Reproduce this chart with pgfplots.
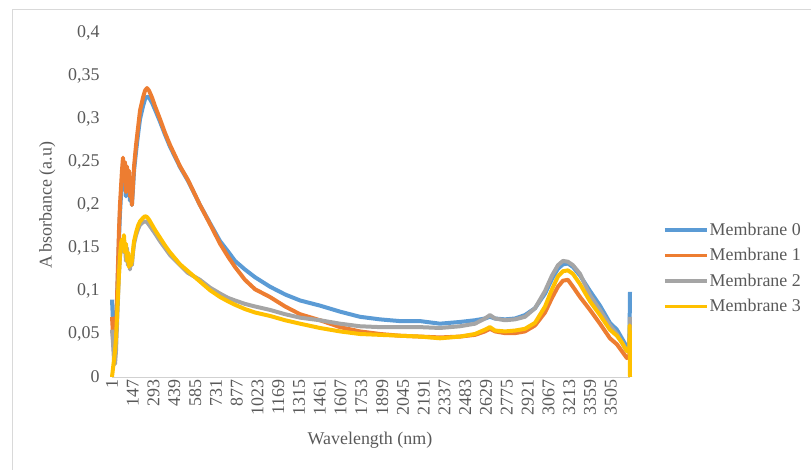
\documentclass[border=0pt]{standalone}
\usepackage{fontspec}
\setmainfont{Liberation Serif}
\usepackage{pgfplots}
\pgfplotsset{compat=1.18}
\definecolor{m0}{HTML}{5B9BD5}
\definecolor{m1}{HTML}{ED7D31}
\definecolor{m2}{HTML}{A5A5A5}
\definecolor{m3}{HTML}{FFC000}
\newcommand{\chartfont}{\fontsize{18}{21}\selectfont}
\begin{document}
\begin{tikzpicture}
\path[use as bounding box] (0,0) rectangle (811bp,470bp);
\draw[black!15, line width=1bp] (12bp,0) -- (12bp,460bp) -- (811bp,460bp);
\begin{axis}[
  at={(112bp,93bp)}, anchor=south west,
  scale only axis, width=518bp, height=344bp,
  xmin=1, xmax=3640, ymin=0, ymax=0.4,
  clip=false,
  axis x line*=bottom, axis y line*=left,
  x axis line style={draw=black!18, line width=1bp},
  y axis line style={draw=none},
  major tick length=0pt,
  xtick={1,147,293,439,585,731,877,1023,1169,1315,1461,1607,1753,1899,2045,2191,2337,2483,2629,2775,2921,3067,3213,3359,3505},
  xticklabels={1,147,293,439,585,731,877,1023,1169,1315,1461,1607,1753,1899,2045,2191,2337,2483,2629,2775,2921,3067,3213,3359,3505},
  ytick={0,0.05,0.1,0.15,0.2,0.25,0.3,0.35,0.4},
  yticklabels={0,{0,05},{0,1},{0,15},{0,2},{0,25},{0,3},{0,35},{0,4}},
  tick label style={font=\chartfont, color=black!65},
  xticklabel style={rotate=90, anchor=east, inner sep=2bp},
  yticklabel style={xshift=-9bp},
  xlabel={Wavelength (nm)},
  ylabel={A\,bsorbance (a.u)},
  label style={font=\chartfont, color=black!65},
  xlabel style={at={(axis description cs:0.498,-0.183)}, anchor=center},
  ylabel style={at={(axis description cs:-0.125,0.5)}, anchor=center},
  legend style={at={(axis description cs:1.058,0.457)}, anchor=north west,
    draw=none, fill=none, font=\chartfont, text=black!65,
    row sep=9.5bp, nodes={inner sep=1bp}},
  legend cell align=left,
  legend image code/.code={\draw[#1, line width=3.5bp] (0bp,0bp) -- (42bp,0bp);},
  every axis plot/.append style={line width=4bp, line join=round},
]
\addplot[m0] coordinates {
(1,0.09)(8,0.065)(15,0.04)(22,0.03)(29,0.05)(36,0.085)(43,0.12)(50,0.16)(57,0.19)(64,0.21)(71,0.23)(78,0.245)(85,0.225)(92,0.24)(99,0.21)(106,0.235)(113,0.215)(120,0.23)(127,0.205)(134,0.22)(141,0.2)(149,0.22)(156,0.24)(170,0.262)(184,0.282)(198,0.3)(219,0.315)(233,0.323)(247,0.326)(261,0.325)(282,0.319)(303,0.311)(338,0.297)(373,0.282)(408,0.268)(479,0.244)(535,0.228)(619,0.2)(689,0.179)(760,0.158)(816,0.146)(865,0.135)(935,0.125)(1006,0.116)(1111,0.105)(1217,0.096)(1322,0.089)(1462,0.083)(1603,0.076)(1743,0.07)(1884,0.067)(2024,0.065)(2165,0.065)(2305,0.062)(2446,0.064)(2551,0.066)(2621,0.068)(2656,0.07)(2692,0.068)(2762,0.067)(2832,0.068)(2902,0.072)(2973,0.08)(3043,0.097)(3092,0.114)(3134,0.126)(3169,0.131)(3204,0.132)(3239,0.128)(3289,0.118)(3359,0.1)(3429,0.083)(3499,0.063)(3548,0.055)(3583,0.045)(3618,0.035)(3635,0.03)(3640,0.099)
};
\addplot[m1] coordinates {
(1,0.07)(8,0.05)(15,0.03)(22,0.025)(29,0.05)(36,0.09)(43,0.13)(50,0.17)(57,0.2)(64,0.22)(71,0.24)(78,0.255)(85,0.23)(92,0.25)(99,0.215)(106,0.245)(113,0.22)(120,0.24)(127,0.21)(134,0.225)(141,0.2)(149,0.225)(156,0.245)(170,0.27)(184,0.29)(198,0.31)(219,0.325)(233,0.333)(247,0.336)(261,0.333)(282,0.325)(303,0.315)(338,0.3)(373,0.284)(408,0.27)(479,0.245)(535,0.229)(619,0.2)(689,0.178)(760,0.155)(816,0.14)(865,0.128)(935,0.113)(1006,0.102)(1111,0.093)(1217,0.082)(1322,0.073)(1462,0.066)(1603,0.058)(1743,0.053)(1884,0.05)(2024,0.048)(2165,0.047)(2305,0.046)(2446,0.047)(2551,0.049)(2621,0.053)(2656,0.056)(2692,0.053)(2762,0.051)(2832,0.051)(2902,0.053)(2973,0.06)(3043,0.075)(3092,0.092)(3134,0.105)(3169,0.112)(3204,0.113)(3239,0.105)(3289,0.093)(3359,0.078)(3429,0.062)(3499,0.045)(3548,0.038)(3583,0.03)(3618,0.022)(3635,0.025)(3640,0.035)
};
\addplot[m2] coordinates {
(1,0.055)(8,0.04)(15,0.02)(22,0.015)(29,0.03)(36,0.06)(43,0.09)(50,0.12)(57,0.14)(64,0.15)(71,0.155)(78,0.16)(85,0.145)(92,0.155)(99,0.135)(106,0.15)(113,0.13)(120,0.14)(127,0.125)(134,0.14)(141,0.13)(149,0.145)(156,0.155)(170,0.165)(184,0.172)(198,0.177)(219,0.18)(233,0.181)(247,0.18)(261,0.177)(282,0.172)(303,0.167)(338,0.158)(373,0.15)(408,0.142)(479,0.13)(535,0.121)(619,0.113)(689,0.104)(760,0.097)(816,0.092)(865,0.089)(935,0.085)(1006,0.082)(1111,0.078)(1217,0.073)(1322,0.069)(1462,0.066)(1603,0.062)(1743,0.059)(1884,0.058)(2024,0.058)(2165,0.058)(2305,0.057)(2446,0.059)(2551,0.062)(2621,0.068)(2656,0.072)(2692,0.068)(2762,0.066)(2832,0.067)(2902,0.07)(2973,0.08)(3043,0.1)(3092,0.118)(3134,0.13)(3169,0.135)(3204,0.134)(3239,0.13)(3289,0.12)(3359,0.095)(3429,0.078)(3499,0.06)(3548,0.05)(3583,0.04)(3618,0.03)(3635,0.035)(3640,0.07)
};
\addplot[m3] coordinates {
(1,0)(8,0.01)(15,0.02)(22,0.03)(29,0.045)(36,0.07)(43,0.095)(50,0.12)(57,0.14)(64,0.155)(71,0.16)(78,0.15)(85,0.165)(92,0.145)(99,0.155)(106,0.135)(113,0.145)(120,0.128)(127,0.14)(134,0.13)(141,0.135)(149,0.148)(156,0.158)(170,0.168)(184,0.176)(198,0.181)(219,0.185)(233,0.187)(247,0.186)(261,0.183)(282,0.177)(303,0.171)(338,0.162)(373,0.153)(408,0.145)(479,0.131)(535,0.123)(619,0.111)(689,0.101)(760,0.093)(816,0.088)(865,0.084)(935,0.079)(1006,0.075)(1111,0.071)(1217,0.066)(1322,0.062)(1462,0.057)(1603,0.053)(1743,0.05)(1884,0.049)(2024,0.048)(2165,0.047)(2305,0.045)(2446,0.047)(2551,0.05)(2621,0.055)(2656,0.058)(2692,0.054)(2762,0.053)(2832,0.054)(2902,0.056)(2973,0.063)(3043,0.082)(3092,0.102)(3134,0.117)(3169,0.123)(3204,0.124)(3239,0.12)(3289,0.108)(3359,0.088)(3429,0.072)(3499,0.055)(3548,0.048)(3583,0.04)(3618,0.03)(3635,0.032)(3638,0.06)(3640,0)
};
\legend{Membrane 0,Membrane 1,Membrane 2,Membrane 3}
\end{axis}
\end{tikzpicture}
\end{document}
